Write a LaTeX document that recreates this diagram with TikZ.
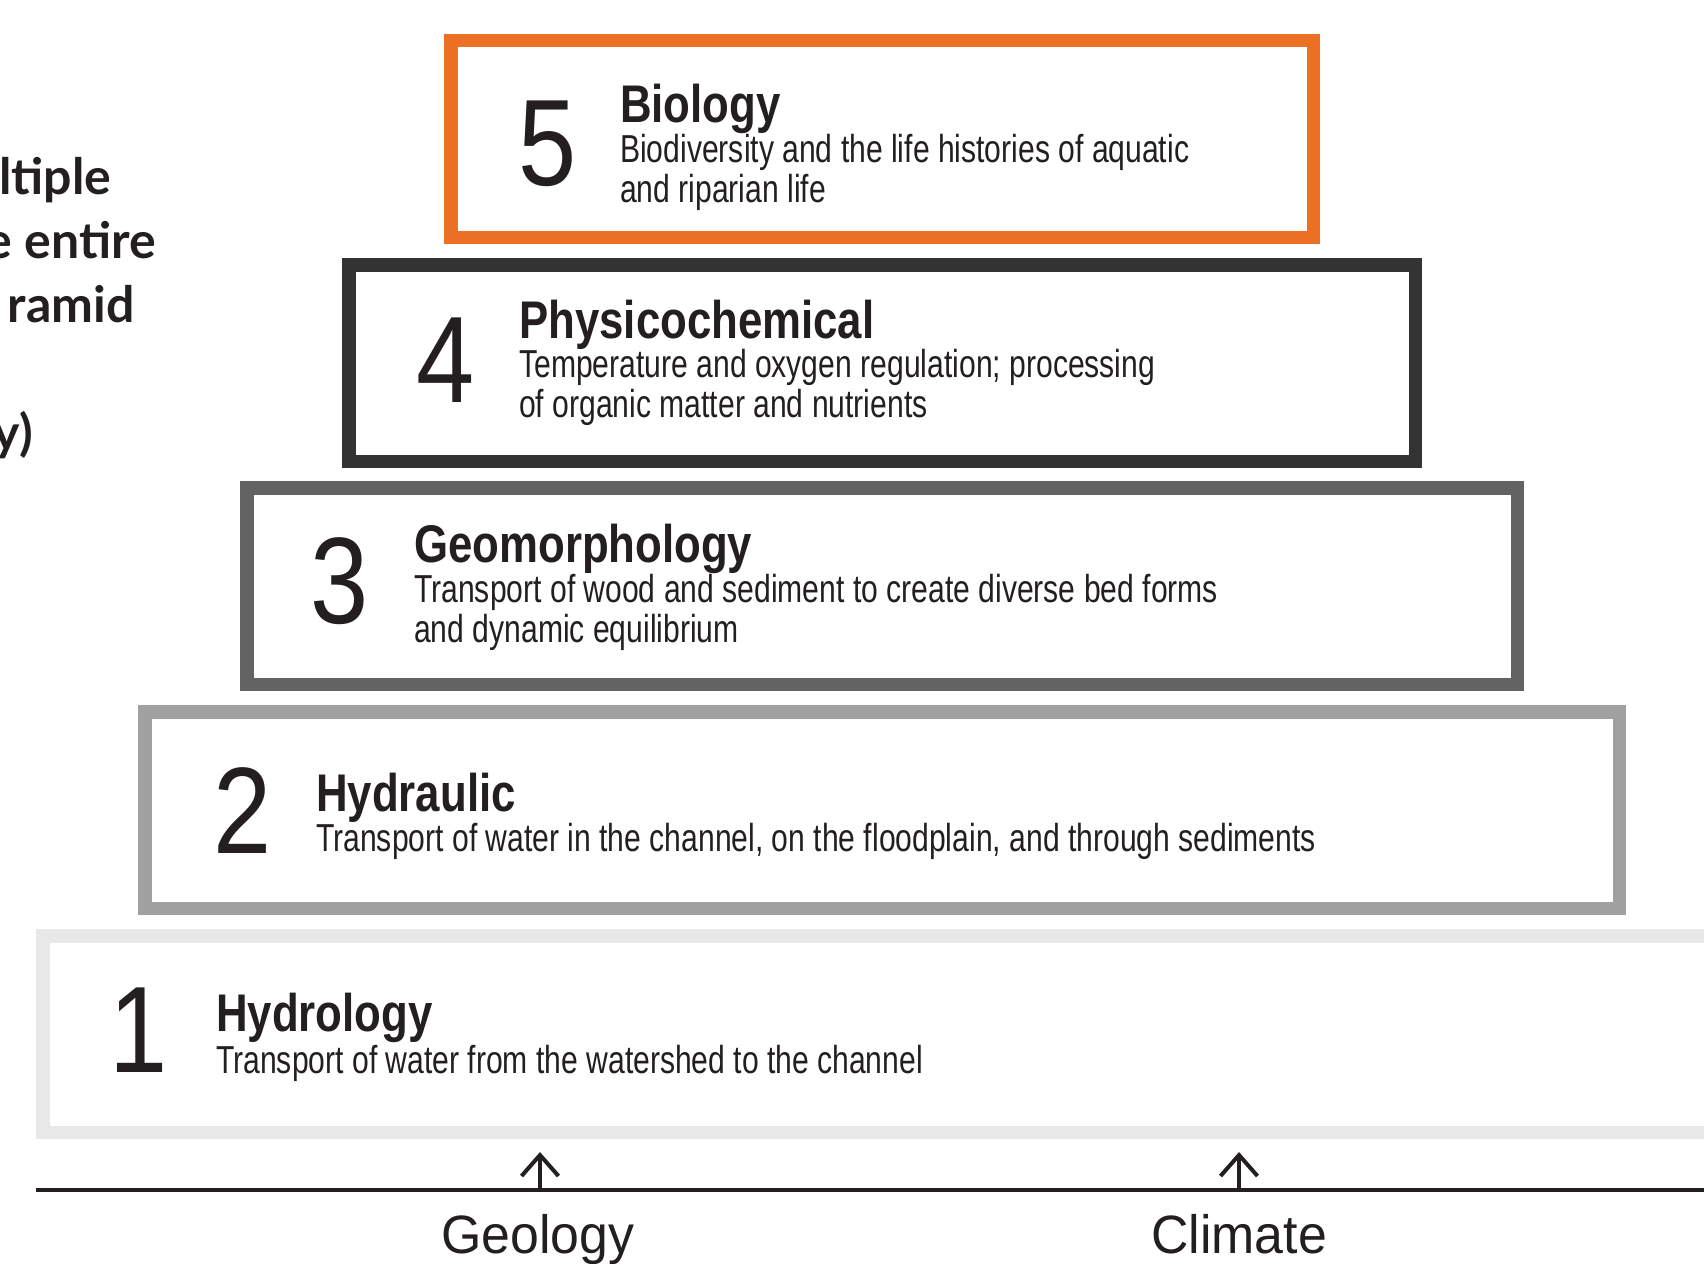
\documentclass[tikz,border=0pt]{standalone}
\usepackage{fontspec}
\setmainfont{Liberation Sans}
\newfontfamily\subfont{Liberation Sans}[FakeStretch=0.772]
\newfontfamily\titlefont{Liberation Sans}[FakeStretch=0.826]
\newfontfamily\numfont{Liberation Sans}[FakeStretch=0.85]
\newfontfamily\labfont{Liberation Sans}[FakeStretch=0.96]
\newfontfamily\sidefont{Lato}
\usetikzlibrary{arrows.meta}
\definecolor{ink}{HTML}{231F20}
\definecolor{cfive}{HTML}{EC7124}
\definecolor{cfour}{HTML}{333333}
\definecolor{cthree}{HTML}{636363}
\definecolor{ctwo}{HTML}{A0A0A0}
\definecolor{cone}{HTML}{E8E8E8}
\tikzset{
  tier/.style={draw, line width=13.5pt, fill=white, inner sep=0pt, minimum height=196.5pt},
  numtxt/.style={anchor=base, inner sep=0pt, text=ink, font=\numfont\fontsize{123}{123}\selectfont},
  ttltxt/.style={anchor=base west, inner sep=0pt, text=ink, font=\titlefont\bfseries\fontsize{53}{53}\selectfont},
  subtxt/.style={anchor=base west, inner sep=0pt, text=ink, font=\subfont\fontsize{39}{39}\selectfont},
  labtxt/.style={anchor=base, inner sep=0pt, text=ink, font=\labfont\fontsize{54}{54}\selectfont},
  sidetxt/.style={inner sep=0pt, text=ink, font=\sidefont\bfseries\fontsize{50}{50}\selectfont},
  axisline/.style={draw=ink, line width=4.5pt},
  uparrow/.style={draw=ink, line width=4pt, -{Straight Barb[length=21pt,width=37pt]}}
}
\begin{document}
\begin{tikzpicture}[x=1pt,y=-1pt]
\useasboundingbox (0,0) rectangle (1704,1263);
\fill[white] (0,0) rectangle (1704,1263);

% side text (clipped column)
\node[sidetxt, anchor=base west] (sa) at (-1,194) {ltiple};
\node[sidetxt, anchor=base east] (sb) at (156,258) {e entire};
\node[sidetxt, anchor=base east] (sc) at (134.5,322) {ramid};
\node[sidetxt, anchor=base east] (sd) at (33,450) {y)};

% tiers
\node[tier, draw=cone, minimum width=1710.5pt] (b1) at (898,1034) {};
\node[tier, draw=ctwo, minimum width=1474.5pt] (b2) at (882,810) {};
\node[tier, draw=cthree, minimum width=1270.5pt] (b3) at (882,586) {};
\node[tier, draw=cfour, minimum width=1066.5pt] (b4) at (882,363) {};
\node[tier, draw=cfive, minimum width=862.5pt] (b5) at (882,139) {};

% tier 5
\node[numtxt] (n5) at (548,185) {5};
\node[ttltxt] (t5) at (620,122) {Biology};
\node[subtxt] (s5a) at (620,162) {Biodiversity and the life histories of aquatic};
\node[subtxt] (s5b) at (620,202) {and riparian life};

% tier 4
\node[numtxt] (n4) at (446,402) {4};
\node[ttltxt] (t4) at (519,338) {Physicochemical};
\node[subtxt] (s4a) at (519,377) {Temperature and oxygen regulation; processing};
\node[subtxt] (s4b) at (519,417) {of organic matter and nutrients};

% tier 3
\node[numtxt] (n3) at (340,623) {3};
\node[ttltxt] (t3) at (414,562) {Geomorphology};
\node[subtxt] (s3a) at (414,602) {Transport of wood and sediment to create diverse bed forms};
\node[subtxt] (s3b) at (414,642) {and dynamic equilibrium};

% tier 2
\node[numtxt] (n2) at (243,853) {2};
\node[ttltxt] (t2) at (316,811) {Hydraulic};
\node[subtxt] (s2a) at (316,851) {Transport of water in the channel, on the floodplain, and through sediments};

% tier 1
\node[numtxt] (n1) at (139,1072) {1};
\node[ttltxt] (t1) at (216,1031) {Hydrology};
\node[subtxt] (s1a) at (216,1073) {Transport of water from the watershed to the channel};

% base line and drivers
\coordinate (axl) at (36,1190);
\coordinate (axr) at (1720,1190);
\draw[axisline] (axl) -- (axr);
\coordinate (ga) at (540,1190);
\coordinate (gt) at (540,1152);
\draw[uparrow] (ga) -- (gt);
\coordinate (ca) at (1239,1190);
\coordinate (ct) at (1239,1152);
\draw[uparrow] (ca) -- (ct);
\node[labtxt] (geo) at (538,1253) {Geology};
\node[labtxt] (cli) at (1239,1253) {Climate};
\end{tikzpicture}
\end{document}
